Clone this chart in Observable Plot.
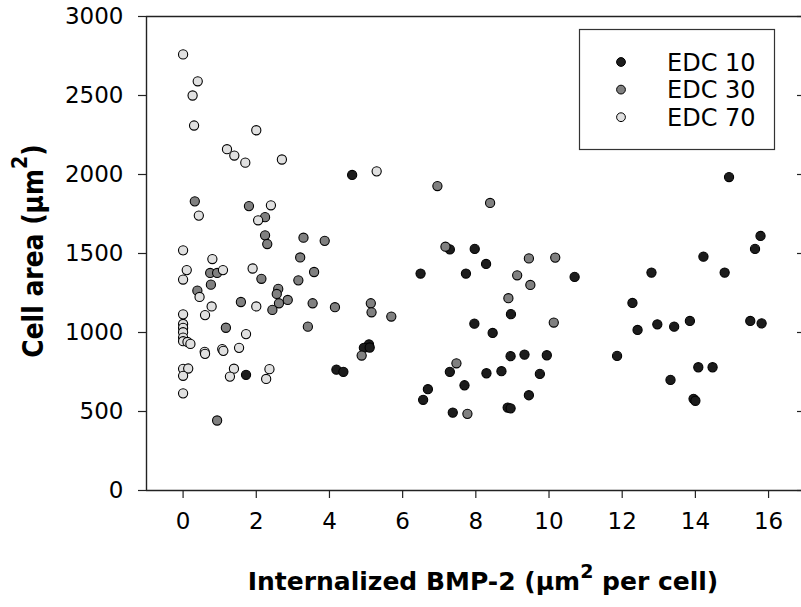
<!DOCTYPE html>
<html><head><meta charset="utf-8">
<script src="https://cdn.jsdelivr.net/npm/d3@7"></script>
<script src="https://cdn.jsdelivr.net/npm/@observablehq/plot@0.6"></script>
<style>
html,body{margin:0;padding:0;background:#fff;overflow:hidden}
#chart{position:relative;width:801px;height:607px}
</style></head><body><div id="chart"></div>
<script>
// ---- data ----
const seriesNames = ["EDC 10", "EDC 30", "EDC 70"];
const seriesFill = ["#1c1c1c", "#808080", "#e0e0e0"];

const edc10 = [
  [1.72, 732], [4.19, 765], [4.38, 751], [4.62, 1997], [5.08, 925], [4.94, 903], [5.1, 905],
  [6.49, 1373], [6.56, 574], [6.69, 641], [7.29, 1526], [7.29, 751], [7.37, 493], [7.69, 666],
  [7.73, 1373], [7.96, 1056], [7.97, 1529], [8.28, 1434], [8.29, 742], [8.46, 997], [8.7, 755],
  [8.87, 525], [8.95, 520], [8.95, 850], [8.96, 1116], [9.33, 860], [9.45, 603], [9.75, 738],
  [9.94, 856], [10.7, 1352], [11.86, 852], [12.28, 1187], [12.42, 1016], [12.8, 1379],
  [12.96, 1052], [13.32, 700], [13.42, 1037], [13.85, 1073], [13.95, 580], [14.0, 568],
  [14.08, 780], [14.22, 1480], [14.47, 780], [14.8, 1379], [14.92, 1984], [15.5, 1073],
  [15.63, 1529], [15.78, 1611], [15.81, 1058]
];
const edc30 = [
  [0.32, 1830], [1.8, 1800], [2.24, 1730], [2.24, 1615], [2.3, 1560], [3.29, 1600], [3.87, 1580],
  [3.2, 1475], [3.58, 1383], [0.74, 1377], [0.93, 1377], [2.14, 1340], [3.15, 1330], [0.76, 1303],
  [0.39, 1265], [2.6, 1276], [2.56, 1244], [2.86, 1206], [2.62, 1185], [2.44, 1143], [1.58, 1193],
  [3.54, 1185], [4.15, 1160], [3.41, 1037], [1.17, 1030], [0.93, 443], [6.95, 1927], [8.39, 1820],
  [7.17, 1543], [9.45, 1469], [10.17, 1474], [9.13, 1362], [9.49, 1301], [8.89, 1217],
  [10.13, 1063], [5.13, 1185], [5.15, 1128], [5.69, 1101], [4.88, 854], [7.47, 805], [7.77, 485]
];
const edc70 = [
  [0, 2760], [0.4, 2590], [0.26, 2500], [0.3, 2310], [2.0, 2280], [1.2, 2160], [1.4, 2120],
  [1.7, 2075], [2.7, 2095], [0.43, 1740], [2.4, 1805], [2.05, 1710], [0, 1520], [0.8, 1465],
  [0.1, 1395], [0, 1335], [1.09, 1395], [1.9, 1405], [0.45, 1225], [0.78, 1165], [0.6, 1110],
  [2.0, 1165], [0, 1115], [0, 1054], [0, 1029], [0, 1002], [0, 968], [0, 945], [0.12, 940],
  [0.2, 928], [1.72, 990], [0.59, 878], [0.6, 865], [1.07, 895], [1.1, 884], [1.53, 903],
  [0, 770], [0.14, 772], [0, 726], [1.39, 771], [1.28, 721], [2.36, 768], [2.27, 706], [0, 615],
  [5.29, 2020]
];

const xTicks = [0, 2, 4, 6, 8, 10, 12, 14, 16];
const yTicks = [0, 500, 1000, 1500, 2000, 2500, 3000];
const xDomain = [-1, 16.9];
const yDomain = [0, 3000];

const xTitleParts = ["Internalized BMP-2 (µm", "2", " per cell)"];
const yTitleParts = ["Cell area (µm", "2", ")"];

// ---- build ----
const seriesData = [edc10, edc30, edc70];
const data = seriesData.flatMap((arr, i) => arr.map(([x, y]) => ({x, y, s: seriesNames[i]})));

const FONT = "DejaVu Sans";
const plot = Plot.plot({
  width: 801, height: 607,
  marginLeft: 146, marginRight: 0, marginTop: 16, marginBottom: 117,
  style: {fontFamily: FONT, fontSize: "23px", color: "#000", background: "#fff", overflow: "visible"},
  x: {domain: xDomain},
  y: {domain: yDomain},
  color: {domain: seriesNames, range: seriesFill},
  marks: [
    Plot.dot(data, {x: "x", y: "y", fill: "s", r: 4.6, stroke: "#000", strokeWidth: 1.1}),
    Plot.ruleX([xDomain[0]], {stroke: "#222", strokeWidth: 1.4}),
    Plot.ruleY([yDomain[0]], {stroke: "#222", strokeWidth: 1.4}),
    Plot.ruleY([yDomain[1]], {stroke: "#222", strokeWidth: 1.4}),
    Plot.axisX({ticks: xTicks, tickFormat: d3.format("d"), tickSize: 8, tickPadding: 14, label: null, fontSize: 23, stroke: "#222", strokeWidth: 1.2}),
    Plot.axisY({ticks: yTicks, tickFormat: d3.format("d"), tickSize: 8, tickPadding: 15, label: null, fontSize: 23, stroke: "#222", strokeWidth: 1.2}),
    Plot.axisY({anchor: "right", ticks: yTicks, tickSize: 5, dx: -5, tickFormat: () => "", label: null, stroke: "#222", strokeWidth: 1.2})
  ]
});
document.getElementById("chart").appendChild(plot);

const svg = d3.select(plot);

// x title
const xt = svg.append("text")
  .attr("x", 483).attr("y", 590)
  .attr("text-anchor", "middle")
  .attr("font-family", FONT).attr("font-size", 25).attr("font-weight", "bold").attr("fill", "#000");
xt.append("tspan").text(xTitleParts[0]);
xt.append("tspan").attr("font-size", 19).attr("dy", -12).text(xTitleParts[1]);
xt.append("tspan").attr("dy", 12).text(xTitleParts[2]);

// y title
const yt = svg.append("text")
  .attr("transform", "translate(43,251) rotate(-90) scale(1,1.15)")
  .attr("text-anchor", "middle")
  .attr("font-family", FONT).attr("font-size", 25).attr("font-weight", "bold").attr("fill", "#000");
yt.append("tspan").text(yTitleParts[0]);
yt.append("tspan").attr("font-size", 19).attr("dy", -14).text(yTitleParts[1]);
yt.append("tspan").attr("dy", 14).text(yTitleParts[2]);

// legend
const lg = svg.append("g");
lg.append("rect").attr("x", 579.5).attr("y", 29.5).attr("width", 195).attr("height", 120)
  .attr("fill", "#fff").attr("stroke", "#333").attr("stroke-width", 1.2);
seriesNames.forEach((name, i) => {
  const cy = 62 + i * 27.6;
  lg.append("circle").attr("cx", 621).attr("cy", cy).attr("r", 4.4)
    .attr("fill", seriesFill[i]).attr("stroke", "#000").attr("stroke-width", 1);
  lg.append("text").attr("x", 667).attr("y", cy).attr("dy", "0.36em")
    .attr("text-anchor", "start")
    .attr("font-family", FONT).attr("font-size", 24).attr("fill", "#000").text(name);
});
</script>
</body></html>
